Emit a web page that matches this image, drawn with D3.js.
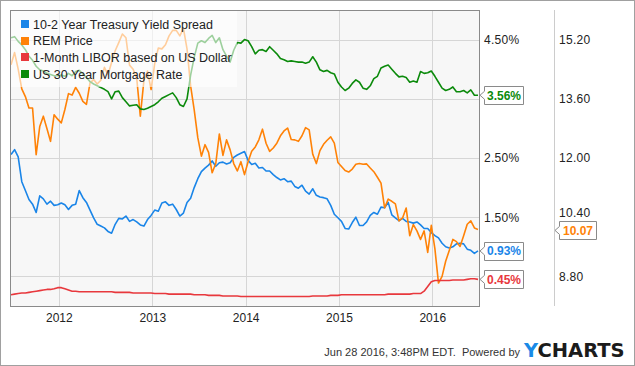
<!DOCTYPE html>
<html>
<head>
<meta charset="utf-8">
<script src="https://cdn.jsdelivr.net/npm/d3@7"></script>
<style>
  html, body { margin: 0; padding: 0; background: #fff; }
  svg { display: block; font-family: "Liberation Sans", Arial, sans-serif; }
</style>
</head>
<body>
<svg id="chart" width="635" height="366"></svg>
<script>
// ---------- DATA ----------
const startDate = "2011-06-28";
const endDate = "2016-06-28";

const seriesNames = ["10-2 Year Treasury Yield Spread", "REM Price", "1-Month LIBOR based on US Dollar", "US 30 Year Mortgage Rate"];
const seriesColors = ["#1a85e8", "#ff8207", "#e8383d", "#0b8a0b"];

// 10-2 Year Treasury Yield Spread (%), biweekly samples
const spreadValues = [2.56,2.64,2.52,2.10,1.95,1.80,1.72,1.58,1.86,1.81,
 1.72,1.77,1.70,1.71,1.74,1.71,1.63,1.70,1.72,1.95,
 1.83,1.75,1.62,1.49,1.38,1.35,1.32,1.26,1.23,1.38,
 1.48,1.47,1.52,1.43,1.46,1.42,1.37,1.35,1.46,1.53,
 1.62,1.60,1.74,1.76,1.70,1.72,1.63,1.52,1.57,1.75,
 1.82,2.00,2.15,2.27,2.33,2.38,2.45,2.36,2.42,2.43,
 2.40,2.42,2.51,2.55,2.58,2.61,2.46,2.39,2.41,2.33,
 2.34,2.28,2.28,2.22,2.17,2.13,2.15,2.10,2.11,2.02,
 1.99,2.04,1.94,1.89,1.98,1.87,1.84,1.83,1.81,1.70,
 1.55,1.49,1.43,1.31,1.30,1.41,1.50,1.36,1.36,1.42,
 1.53,1.58,1.55,1.67,1.66,1.75,1.54,1.49,1.44,1.48,
 1.43,1.42,1.40,1.42,1.37,1.31,1.31,1.24,1.19,1.15,
 1.06,1.00,0.98,1.00,1.05,1.06,1.05,0.96,0.94,0.89,
 0.93];

// REM Price (USD), biweekly samples
const remValues = [14.52,14.85,14.40,13.87,13.66,13.35,13.35,12.09,12.85,13.13,
 12.80,12.45,13.17,13.05,12.95,13.31,13.74,13.70,13.91,13.75,
 13.53,13.45,14.03,14.12,14.00,14.10,14.45,14.25,14.58,14.90,
 15.12,15.35,15.25,14.51,14.40,14.15,13.13,14.10,14.35,13.85,
 14.55,14.97,14.95,15.06,15.30,15.45,15.45,15.30,15.50,14.95,
 13.95,13.30,12.55,12.05,12.36,12.15,11.60,11.85,12.65,12.07,
 12.49,12.22,11.85,11.65,11.90,11.55,11.90,12.18,12.30,12.49,
 12.78,12.40,12.18,12.27,12.40,12.60,12.73,12.81,12.50,12.49,
 12.45,12.60,12.82,12.76,12.10,11.85,12.20,12.37,12.48,12.57,
 12.40,11.88,11.77,11.66,11.62,11.70,11.83,11.85,11.83,11.84,
 11.73,11.63,11.48,11.32,10.65,10.89,10.83,10.76,10.30,10.38,
 10.65,9.90,10.20,10.03,9.80,10.03,9.45,10.18,9.55,8.62,
 8.80,9.21,9.50,9.80,9.74,9.61,9.90,10.21,10.30,10.11,
 10.07];

// 1-Month LIBOR (%), biweekly samples
const liborValues = [0.19,0.20,0.21,0.22,0.22,0.23,0.24,0.25,0.26,0.27,
 0.28,0.28,0.29,0.31,0.31,0.29,0.27,0.25,0.25,0.24,
 0.24,0.24,0.24,0.24,0.24,0.24,0.24,0.24,0.24,0.23,
 0.23,0.23,0.23,0.23,0.22,0.22,0.22,0.22,0.22,0.22,
 0.21,0.21,0.21,0.21,0.20,0.20,0.20,0.20,0.20,0.20,
 0.20,0.19,0.19,0.19,0.19,0.18,0.18,0.18,0.18,0.17,
 0.17,0.17,0.17,0.17,0.16,0.16,0.16,0.16,0.16,0.16,
 0.16,0.16,0.16,0.16,0.16,0.16,0.16,0.16,0.16,0.16,
 0.16,0.16,0.16,0.16,0.17,0.17,0.17,0.17,0.17,0.18,
 0.18,0.18,0.19,0.19,0.19,0.19,0.19,0.19,0.19,0.19,
 0.19,0.19,0.19,0.19,0.19,0.20,0.20,0.20,0.20,0.20,
 0.20,0.20,0.21,0.21,0.21,0.25,0.33,0.41,0.43,0.43,
 0.43,0.43,0.43,0.44,0.44,0.44,0.44,0.45,0.46,0.46,
 0.45];

// US 30 Year Mortgage Rate (%), biweekly samples
const mortgageValues = [4.53,4.55,4.47,4.41,4.33,4.22,4.15,4.05,3.99,3.97,
 3.93,3.91,3.89,3.89,3.90,3.88,3.93,3.89,3.96,3.98,
 3.92,3.86,3.79,3.75,3.72,3.69,3.66,3.62,3.50,3.62,
 3.63,3.52,3.45,3.38,3.39,3.40,3.33,3.32,3.34,3.37,
 3.40,3.45,3.51,3.54,3.57,3.60,3.52,3.40,3.37,3.50,
 3.90,4.20,4.44,4.48,4.45,4.52,4.57,4.45,4.53,4.33,
 4.22,4.12,4.32,4.45,4.44,4.50,4.48,4.38,4.26,4.32,
 4.33,4.30,4.38,4.32,4.26,4.18,4.16,4.13,4.14,4.13,
 4.12,4.12,4.10,4.12,4.21,4.12,3.99,3.96,3.98,3.94,
 3.92,3.78,3.70,3.64,3.68,3.76,3.82,3.78,3.68,3.66,
 3.72,3.84,3.88,4.02,4.05,4.07,4.00,3.93,3.87,3.88,
 3.86,3.78,3.80,3.78,3.96,3.93,3.94,3.97,3.88,3.78,
 3.68,3.64,3.66,3.70,3.62,3.62,3.64,3.60,3.65,3.56,
 3.56];

const gridTicks = [0.5, 1.5, 2.5, 3.5, 4.5];
const leftTickLabels = [1.5, 2.5, 4.5];          // 0.50% and 3.50% are hidden behind value flags
const rightTicks = [8.8, 10.4, 12.0, 13.6, 15.2];
const leftDomain = [0, 5];
const rightDomain = [8, 16];
const lastLabels = ["0.93%", "10.07", "0.45%", "3.56%"];
const footerText = "Jun 28 2016, 3:48PM EDT.  Powered by";

// ---------- CHART ----------
const svg = d3.select("#chart");
const W = 635, H = 366;
const P = { l: 10, t: 10, r: 479, b: 306 };

const t0 = new Date(startDate + "T00:00:00"), t1 = new Date(endDate + "T00:00:00");
function sampleDates(n) {
  return d3.range(n).map(i => new Date(+t0 + i * (t1 - t0) / (n - 1)));
}

const x = d3.scaleTime().domain([t0, t1]).range([11, 478]);
const yL = d3.scaleLinear().domain(leftDomain).range([P.b, P.t]);
const yR = d3.scaleLinear().domain(rightDomain).range([P.b, P.t]);

// outer frame
svg.append("rect").attr("x", 0.5).attr("y", 0.5).attr("width", W - 1).attr("height", H - 1)
  .attr("fill", "#fff").attr("stroke", "#a0a0a0");

// plot background
svg.append("rect").attr("x", P.l).attr("y", P.t).attr("width", P.r - P.l).attr("height", P.b - P.t)
  .attr("fill", "#f7f7f7");

// grid
const grid = svg.append("g").attr("shape-rendering", "crispEdges");
grid.selectAll("line.h").data(gridTicks).join("line")
  .attr("x1", P.l).attr("x2", P.r)
  .attr("y1", d => Math.round(yL(d)) + 0.5).attr("y2", d => Math.round(yL(d)) + 0.5)
  .attr("stroke", "#d6d6d6");
const yearTicks = x.ticks(d3.timeYear.every(1));
grid.selectAll("line.v").data(yearTicks).join("line")
  .attr("x1", d => Math.round(x(d)) + 0.5).attr("x2", d => Math.round(x(d)) + 0.5)
  .attr("y1", P.t).attr("y2", P.b)
  .attr("stroke", "#d6d6d6");

// right axis line
svg.append("line").attr("x1", 554.5).attr("x2", 554.5).attr("y1", P.t).attr("y2", P.b)
  .attr("stroke", "#cccccc").attr("shape-rendering", "crispEdges");

// series
const series = [
  { values: spreadValues, y: yL },
  { values: remValues, y: yR },
  { values: liborValues, y: yL },
  { values: mortgageValues, y: yL }
];
const lines = svg.append("g");
series.forEach((s, i) => {
  const dates = sampleDates(s.values.length);
  const line = d3.line().x((d, k) => x(dates[k])).y(d => s.y(d)).curve(d3.curveLinear);
  lines.append("path").attr("d", line(s.values))
    .attr("fill", "none").attr("stroke", seriesColors[i])
    .attr("stroke-width", 1.6).attr("stroke-linejoin", "round");
});

// plot border
svg.append("rect").attr("x", P.l + 0.5).attr("y", P.t + 0.5).attr("width", P.r - P.l).attr("height", P.b - P.t)
  .attr("fill", "none").attr("stroke", "#8a8a8a").attr("shape-rendering", "crispEdges");

// legend
const legend = svg.append("g");
legend.append("rect").attr("x", P.l + 1).attr("y", P.t + 1).attr("width", 226).attr("height", 76)
  .attr("fill", "#ffffff").attr("fill-opacity", 0.6);
seriesNames.forEach((name, i) => {
  const cy = 24 + i * 16.7;
  legend.append("rect").attr("x", 21).attr("y", Math.round(cy - 4)).attr("width", 8).attr("height", 8)
    .attr("fill", seriesColors[i]);
  legend.append("text").attr("x", 33).attr("y", cy + 4.5)
    .attr("font-size", "12.5px").attr("fill", "#222").text(name);
});

// left-value axis (labels placed right of plot)
const axL = d3.axisRight(yL).tickValues(leftTickLabels).tickSize(0).tickPadding(0)
  .tickFormat(d => d3.format(".2f")(d) + "%");
svg.append("g").attr("transform", `translate(484,0)`).call(axL)
  .call(g => g.select(".domain").remove())
  .selectAll("text").attr("font-size", "12px").attr("fill", "#222")
  .attr("font-family", "Liberation Sans, Arial, sans-serif").attr("letter-spacing", "0.3px");

const axR = d3.axisRight(yR).tickValues(rightTicks).tickSize(0).tickPadding(0)
  .tickFormat(d3.format(".2f"));
svg.append("g").attr("transform", `translate(559,0)`).call(axR)
  .call(g => g.select(".domain").remove())
  .selectAll("text").attr("font-size", "12px").attr("fill", "#222")
  .attr("font-family", "Liberation Sans, Arial, sans-serif").attr("letter-spacing", "0.3px")
  .attr("dy", d => d === 10.4 ? "-0.1em" : "0.32em");

// bottom axis
const axB = d3.axisBottom(x).ticks(d3.timeYear.every(1)).tickSize(0).tickPadding(7)
  .tickFormat(d3.timeFormat("%Y"));
svg.append("g").attr("transform", `translate(0,${P.b})`).call(axB)
  .call(g => g.select(".domain").remove())
  .selectAll("text").attr("font-size", "12px").attr("fill", "#222")
  .attr("font-family", "Liberation Sans, Arial, sans-serif");

// last value flags
function flag(xTip, yv, label, color, w) {
  const g = svg.append("g");
  const top = Math.round(yv - 9) + 0.5, h = 18, left = xTip + 4.5;
  const path = `M${xTip},${yv} L${left},${yv - 4} L${left},${top} L${left + w},${top} L${left + w},${top + h} L${left},${top + h} L${left},${yv + 4} Z`;
  g.append("path").attr("d", path).attr("fill", "#fff").attr("stroke", "#8a8a8a");
  g.append("text").attr("x", left + w / 2).attr("y", yv + 4.5).attr("text-anchor", "middle")
    .attr("font-size", "12px").attr("font-weight", "bold").attr("fill", color).text(label);
}
const lastIdx = a => a.length - 1;
flag(480, yL(mortgageValues[lastIdx(mortgageValues)]), lastLabels[3], seriesColors[3], 39);
flag(480, yL(spreadValues[lastIdx(spreadValues)]), lastLabels[0], seriesColors[0], 39);
flag(480, yL(liborValues[lastIdx(liborValues)]), lastLabels[2], seriesColors[2], 39);
flag(555, yR(remValues[lastIdx(remValues)]) + 1, lastLabels[1], seriesColors[1], 37);

// footer
svg.append("text").attr("x", 520).attr("y", 356).attr("text-anchor", "end")
  .attr("font-size", "11px").attr("fill", "#333").attr("xml:space", "preserve").text(footerText);
const logo = svg.append("text").attr("x", 524).attr("y", 356.5)
  .attr("font-size", "19.5px").attr("font-weight", "bold")
  .attr("font-family", "DejaVu Sans, Liberation Sans, sans-serif");
logo.append("tspan").attr("fill", "#1a8ae6").text("Y");
logo.append("tspan").attr("fill", "#1b1b1b").text("CHARTS");
</script>
</body>
</html>
